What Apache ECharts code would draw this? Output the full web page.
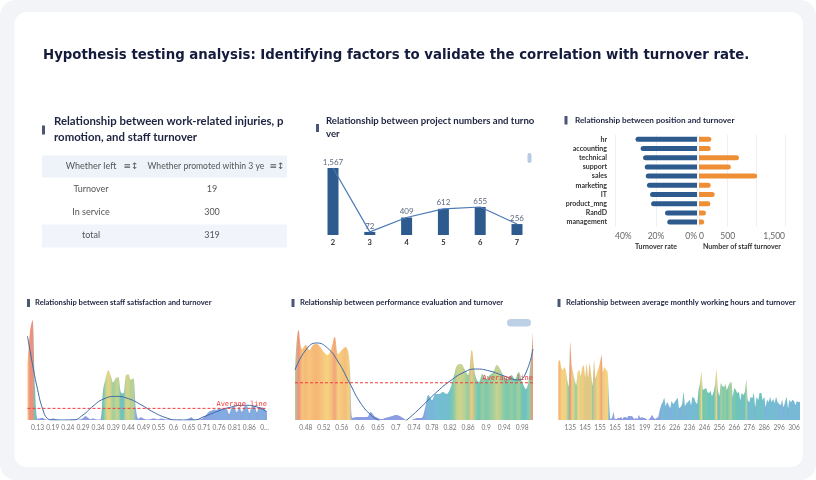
<!DOCTYPE html>
<html>
<head>
<meta charset="utf-8">
<title>Hypothesis testing analysis</title>
<style>
html, body { margin: 0; padding: 0; background: #fff; }
#main { width: 816px; height: 480px; }
</style>
</head>
<body>
<div id="main"></div>
<script src="https://cdn.jsdelivr.net/npm/echarts@6/dist/echarts.min.js"></script>
<script>
// ---- data ----
var mainTitle = 'Hypothesis testing analysis: Identifying factors to validate the correlation with turnover rate.';

// table: work injuries / promotion
var tableHead = ['Whether left', 'Whether promoted within 3 ye'];
var tableRows = ['Turnover', 'In service', 'total'];
var tablePromoted = [19, 300, 319];

// project numbers
var projectCats = ['2', '3', '4', '5', '6', '7'];
var projectLeft = [1567, 72, 409, 612, 655, 256];

// position
var positions = ['hr', 'accounting', 'technical', 'support', 'sales', 'marketing', 'IT', 'product_mng', 'RandD', 'management'];
var positionRate = [0.30, 0.275, 0.263, 0.255, 0.25, 0.244, 0.229, 0.224, 0.156, 0.145];
var positionLeft = [215, 204, 697, 555, 1014, 203, 273, 198, 121, 91];

// satisfaction level (turnover count per level)
var satTicks = ['0.13', '0.19', '0.24', '0.29', '0.34', '0.39', '0.44', '0.49', '0.55', '0.6', '0.65', '0.71', '0.76', '0.81', '0.86', '0...'];
var satLeft = [
  200, 320, 360, 110, 4,
  6, 7, 3, 1, 3, 5, 4, 2, 1, 0, 1, 1, 2, 3, 2, 1, 3, 6, 14, 8, 3, 5, 3, 2, 3,
  110, 150, 180, 160, 135, 150, 155, 100, 95, 160, 165, 145, 150, 40, 4,
  10, 5, 2, 3, 4, 5, 4, 3, 5, 4, 2, 3, 2, 1, 1, 2, 1, 0, 2, 5, 10,
  2, 1, 2, 4, 10,
  20, 30, 33, 38, 36, 42, 40, 43, 40, 22, 45, 47, 28, 46, 30, 48, 50, 25, 49, 50, 28, 47, 45, 40, 26
];
var satTrend = [[0, 302], [2, 200], [4, 110], [6, 40], [8, 5], [10, 0], [18, 0], [22, 18], [26, 50], [30, 75], [35, 85],
  [40, 77], [45, 55], [50, 28], [55, 8], [59, 0], [66, 0], [70, 12], [75, 30], [80, 45], [86, 53], [91, 47], [95, 29]];

// last evaluation
var evalTicks = ['0.48', '0.52', '0.56', '0.6', '0.65', '0.7', '0.74', '0.78', '0.82', '0.86', '0.9', '0.94', '0.98'];
var evalLeft = [
  100, 180, 142, 150, 140, 150, 152, 146, 136, 130, 142, 166, 132, 140, 146, 126,
  4, 6, 6, 6, 6, 16, 8, 4, 2, 4, 6, 8, 10, 8, 4, 0, 0, 2, 4, 4,
  22, 50, 40, 52, 52, 56, 52, 62, 86, 110, 112, 102, 90, 140, 90, 76, 92, 82, 90, 96, 110, 100, 86, 82, 90, 82, 96, 76, 62, 90, 176
];
var evalTrend = [[0, 100], [3, 140], [6, 154], [9, 144], [12, 116], [15, 76], [18, 36], [21, 10], [23, 0], [26, -14], [29, -10],
  [31, 0], [35, 26], [39, 54], [43, 78], [47, 96], [50, 102], [54, 98], [58, 88], [62, 80], [64, 94], [66, 142]];

// average monthly hours
var hourTicks = ['135', '145', '155', '165', '181', '199', '216', '226', '236', '246', '256', '266', '276', '286', '296', '306'];
var hourLeft = [
  58, 60, 52, 50, 53, 50, 40, 33, 78, 55,
  47, 40, 35, 48, 50, 44, 52, 55, 43, 56,
  42, 57, 46, 34, 60, 42, 48, 52, 58, 65,
  48, 53, 50, 49, 20, 1, 2, 8, 1, 1,
  2, 2, 3, 1, 3, 3, 2, 4, 4, 4,
  3, 1, 2, 1, 5, 2, 3, 2, 2, 1,
  0, 1, 3, 5, 2, 1, 2, 3, 10, 15,
  18, 22, 14, 18, 15, 12, 19, 16, 18, 20,
  22, 12, 13, 16, 28, 14, 17, 18, 20, 15,
  23, 22, 18, 16, 30, 37, 48, 30, 31, 32,
  28, 27, 29, 24, 28, 35, 51, 30, 24, 37,
  34, 33, 36, 30, 34, 37, 38, 23, 32, 30,
  27, 28, 20, 27, 25, 28, 40, 20, 18, 23,
  22, 27, 13, 23, 20, 27, 27, 20, 23, 13,
  20, 18, 23, 18, 21, 17, 23, 18, 16, 15,
  20, 13, 18, 23, 12, 20, 18, 20, 19, 15,
  19, 18, 18
];

// ---- helpers ----
var heatColors = ['#7682da', '#6c96dc', '#55aecb', '#4dbaa0', '#a9c87c', '#f4ca66', '#f4a458', '#ea7862'];
var navy = '#2d5b8e';
var orange = '#ef8f35';
var avgRed = '#f23a3a';

function mean(arr) {
  var s = 0;
  arr.forEach(function (v) { s += v; });
  return s / arr.length;
}

function stripeFill(values, top) {
  var stops = values.map(function (v, i) {
    return { offset: i / (values.length - 1), color: echarts.color.lerp(Math.min(Math.max(v, 0) / top, 1), heatColors) };
  });
  return new echarts.graphic.LinearGradient(0, 0, 1, 0, stops);
}

function tickAxis(gridIndex, n, ticks, first, every) {
  var cats = [];
  for (var i = 0; i < n; i++) cats.push(String(i));
  return {
    type: 'category', gridIndex: gridIndex, boundaryGap: false, data: cats,
    axisLine: { show: false }, axisTick: { show: false },
    axisLabel: {
      interval: function (idx) { return idx >= first && (idx - first) % every === 0; },
      formatter: function (v, idx) { return ticks[(idx - first) / every] || ''; },
      fontSize: 6.6, color: '#777', margin: 4
    }
  };
}
function trendAxis(gridIndex, n) {
  return { type: 'value', gridIndex: gridIndex, min: 0, max: n - 1, show: false };
}
function hiddenValue(gridIndex, max) {
  return { type: 'value', gridIndex: gridIndex, min: 0, max: max, show: false };
}
// dashed average line across the whole plot, drawn as its own series
function averageSeries(xIndex, yIndex, values) {
  var avg = mean(values);
  return {
    type: 'line', xAxisIndex: xIndex, yAxisIndex: yIndex, symbol: 'none', silent: true, z: 5,
    data: [[0, avg], [values.length - 1, avg]],
    color: avgRed,
    lineStyle: { color: avgRed, type: [3, 2], width: 1 },
    endLabel: { show: true, formatter: 'Average line', color: avgRed, fontFamily: 'DejaVu Sans Mono',
      fontSize: 7, align: 'right', verticalAlign: 'bottom', distance: 0, offset: [0, -1] }
  };
}

function marker(x, y, h) {
  return { type: 'rect', shape: { x: x, y: y, width: 3, height: h }, style: { fill: '#4b5677' } };
}
function label(x, y, text, font, fill, align) {
  return { type: 'text', x: x, y: y, style: {
    text: text, font: font, fill: fill || '#1d2340',
    align: align || 'left', verticalAlign: 'middle',
    textAlign: align || 'left', textVerticalAlign: 'middle' } };
}

// ---- layout graphics ----
var graphics = [
  { type: 'rect', shape: { x: 0, y: 0, width: 816, height: 480, r: 16 }, style: { fill: '#f2f4f7' } },
  { type: 'rect', shape: { x: 14.5, y: 12, width: 788.5, height: 455, r: 12 }, style: { fill: '#ffffff' } },
  label(43, 55, mainTitle, 'bold 14.8px "DejaVu Sans Condensed"', '#141b3c'),

  marker(42, 125.5, 9),
  label(54, 121, 'Relationship between work-related injuries, p', 'bold 11.4px Lato'),
  label(54, 137, 'romotion, and staff turnover', 'bold 11.4px Lato'),
  { type: 'rect', shape: { x: 42, y: 155.5, width: 245, height: 22 }, style: { fill: '#eef3fa' } },
  { type: 'rect', shape: { x: 42, y: 224.5, width: 245, height: 23 }, style: { fill: '#f1f5fb' } },
  label(91, 166.5, tableHead[0], '9px Lato', '#555', 'center'),
  label(147.5, 166.5, tableHead[1], '8.6px Lato', '#555'),
  label(131, 166.5, '\u2261\u2195', '9px "DejaVu Sans"', '#555', 'center'),
  label(277, 166.5, '\u2261\u2195', '9px "DejaVu Sans"', '#555', 'center'),

  marker(316, 124, 8),
  label(326, 120.5, 'Relationship between project numbers and turno', 'bold 9.6px Lato'),
  label(326, 134, 'ver', 'bold 9.6px Lato'),
  { type: 'rect', shape: { x: 527.5, y: 153, width: 4, height: 10, r: 2 }, style: { fill: '#b7cbe4' } },

  marker(564.5, 116, 8.5),
  label(575, 120.5, 'Relationship between position and turnover', 'bold 8.2px Lato'),

  marker(27, 299, 8),
  label(35, 303, 'Relationship between staff satisfaction and turnover', 'bold 7.6px Lato'),
  marker(291.5, 299, 8),
  label(300, 303, 'Relationship between performance evaluation and turnover', 'bold 7.7px Lato'),
  { type: 'rect', shape: { x: 507, y: 319, width: 24, height: 7.5, r: 3.75 }, style: { fill: '#bcd0e6' } },
  marker(557.5, 299, 8),
  label(566, 303, 'Relationship between average monthly working hours and turnover', 'bold 7.7px Lato')
];
var rowY = [189.5, 212.5, 235.5];
tableRows.forEach(function (name, i) {
  graphics.push(label(91, rowY[i], name, '9px Lato', '#555', 'center'));
  graphics.push(label(212, rowY[i], String(tablePromoted[i]), '9px Lato', '#555', 'center'));
});

// ---- chart ----
var chart = echarts.init(document.getElementById('main'));
var option = {
  animation: false,
  textStyle: { fontFamily: 'Lato' },
  graphic: { elements: graphics },
  grid: [
    { left: 314.6, top: 166.6, width: 220.8, height: 68.4, outerBoundsMode: 'none' },
    { left: 615, top: 134.7, width: 82, height: 92, outerBoundsMode: 'none' },
    { left: 699, top: 134.7, width: 86, height: 92, outerBoundsMode: 'none' },
    { left: 27.5, top: 320, width: 239.5, height: 100, outerBoundsMode: 'none' },
    { left: 295, top: 330, width: 238, height: 90, outerBoundsMode: 'none' },
    { left: 558.3, top: 342, width: 241.7, height: 78, outerBoundsMode: 'none' }
  ],
  xAxis: [
    { type: 'category', gridIndex: 0, data: projectCats,
      axisLine: { show: false }, axisTick: { show: false },
      axisLabel: { fontSize: 7.5, fontWeight: 'bold', color: '#333', margin: 4 } },
    { type: 'value', gridIndex: 1, inverse: true, min: 0, max: 0.4, interval: 0.2,
      axisLine: { show: false }, axisTick: { show: false },
      splitLine: { lineStyle: { color: '#eef0f4' } },
      axisLabel: { fontSize: 8.5, color: '#666', margin: 5, alignMinLabel: 'right', alignMaxLabel: 'left',
        formatter: function (v) { return Math.round(v * 100) + '%'; } },
      name: 'Turnover rate', nameLocation: 'middle', nameGap: 17,
      nameTextStyle: { fontSize: 7, fontWeight: 'bold', color: '#333' } },
    { type: 'value', gridIndex: 2, min: 0, max: 1500, interval: 500,
      axisLine: { show: false }, axisTick: { show: false },
      splitLine: { lineStyle: { color: '#eef0f4' } },
      axisLabel: { fontSize: 8.5, color: '#666', margin: 5, alignMinLabel: 'left', alignMaxLabel: 'right',
        formatter: function (v) { return v === 1000 ? '' : v.toLocaleString('en-US'); } },
      name: 'Number of staff turnover', nameLocation: 'middle', nameGap: 17,
      nameTextStyle: { fontSize: 7, fontWeight: 'bold', color: '#333' } },
    tickAxis(3, satLeft.length, satTicks, 4, 6),
    trendAxis(3, satLeft.length),
    tickAxis(4, evalLeft.length, evalTicks, 3, 5),
    trendAxis(4, evalLeft.length),
    tickAxis(5, hourLeft.length, hourTicks, 8, 10)
  ],
  yAxis: [
    hiddenValue(0, 1600),
    { type: 'category', gridIndex: 1, data: positions, inverse: true,
      axisLine: { show: false }, axisTick: { show: false },
      axisLabel: { fontSize: 7, fontWeight: 'bold', color: '#333', margin: 8 } },
    { type: 'category', gridIndex: 2, data: positions, inverse: true, show: false },
    hiddenValue(3, 'dataMax'),
    hiddenValue(4, 'dataMax'),
    hiddenValue(5, 'dataMax')
  ],
  series: [
    { type: 'bar', xAxisIndex: 0, yAxisIndex: 0, data: projectLeft, barWidth: 11,
      itemStyle: { color: navy },
      label: { show: true, position: 'top', distance: 2, fontSize: 8, color: '#5b6a80',
        formatter: function (p) { return p.value.toLocaleString('en-US'); } } },
    { type: 'line', xAxisIndex: 0, yAxisIndex: 0, data: projectLeft, smooth: false, symbol: 'none',
      lineStyle: { color: '#4a7ab5', width: 1.2 }, z: 3 },

    { type: 'bar', xAxisIndex: 1, yAxisIndex: 1, data: positionRate, barWidth: 5,
      itemStyle: { color: navy, borderRadius: [2.5, 0, 0, 2.5] } },
    { type: 'bar', xAxisIndex: 2, yAxisIndex: 2, data: positionLeft, barWidth: 5,
      itemStyle: { color: orange, borderRadius: [0, 2.5, 2.5, 0] } },

    { type: 'line', xAxisIndex: 3, yAxisIndex: 3, data: satLeft, smooth: 0.3, symbol: 'none',
      lineStyle: { width: 0, opacity: 0 },
      areaStyle: { color: stripeFill(satLeft, 260), opacity: 0.82 } },
    { type: 'line', xAxisIndex: 4, yAxisIndex: 3, data: satTrend, smooth: true, symbol: 'none',
      color: '#3a68a8', lineStyle: { color: '#3a68a8', width: 1 }, z: 4 },
    averageSeries(4, 3, satLeft),

    { type: 'line', xAxisIndex: 5, yAxisIndex: 4, data: evalLeft, smooth: 0.4, symbol: 'none',
      lineStyle: { width: 0, opacity: 0 },
      areaStyle: { color: stripeFill(evalLeft, 180), opacity: 0.82 } },
    { type: 'line', xAxisIndex: 6, yAxisIndex: 4, data: evalTrend, smooth: true, symbol: 'none',
      color: '#3a68a8', lineStyle: { color: '#3a68a8', width: 1 }, z: 4 },
    averageSeries(6, 4, evalLeft),

    { type: 'line', xAxisIndex: 7, yAxisIndex: 5, data: hourLeft, smooth: 0.2, symbol: 'none',
      lineStyle: { width: 0, opacity: 0 },
      areaStyle: { color: stripeFill(hourLeft, 70), opacity: 0.82 } }
  ]
};
chart.setOption(option);
</script>
</body>
</html>
